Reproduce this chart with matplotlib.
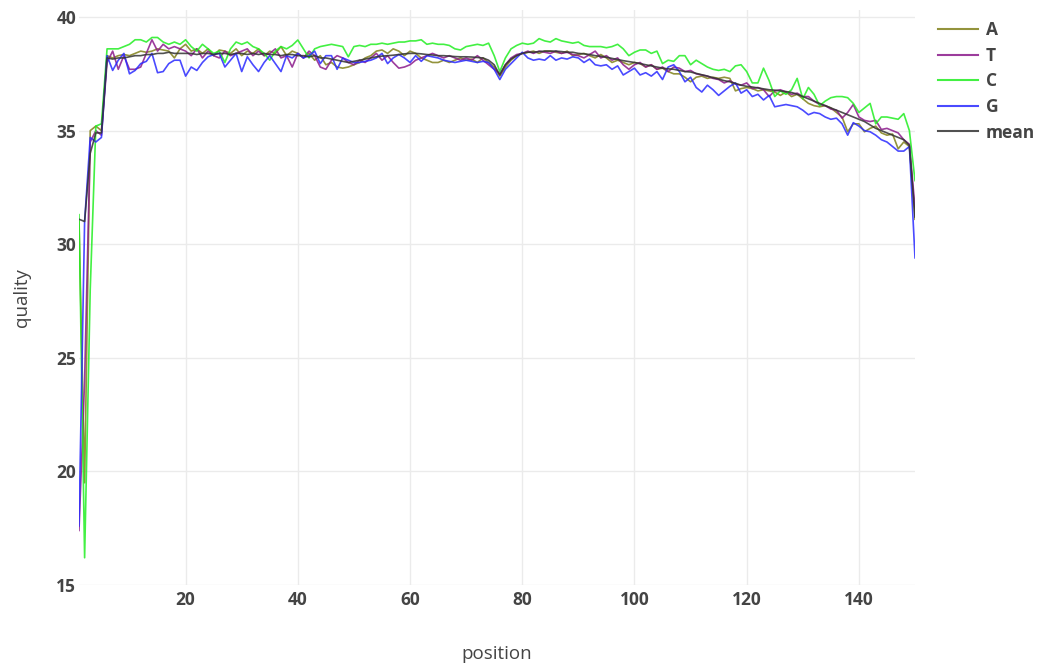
import matplotlib
matplotlib.use("Agg")
import matplotlib.pyplot as plt
import numpy as np

positions = list(range(1, 151))

A = [31.0, 19.5, 35.0, 35.2, 35.0, 38.3, 38.2, 38.3, 38.35, 38.3,
     38.4, 38.5, 38.45, 38.5, 38.6, 38.55, 38.5, 38.2, 38.6, 38.8,
     38.5, 38.6, 38.4, 38.6, 38.3, 38.55, 38.5, 38.4, 38.6, 38.3,
     38.5, 38.4, 38.6, 38.3, 38.5, 38.4, 38.7, 38.3, 38.5, 38.4,
     38.2, 38.4, 38.1, 38.3, 37.9, 38.0, 37.8, 37.75, 37.8, 37.9,
     38.0, 38.2, 38.3, 38.5, 38.55, 38.4, 38.6, 38.5, 38.3, 38.5,
     38.4, 38.2, 38.1, 38.0, 38.0, 38.1, 38.0, 38.1, 38.2, 38.1,
     38.15, 38.0, 38.2, 38.0, 37.8, 37.4, 37.8, 38.1, 38.3, 38.4,
     38.45, 38.5, 38.4, 38.5, 38.5, 38.45, 38.4, 38.5, 38.3, 38.35,
     38.4, 38.3, 38.2, 38.35, 38.2, 38.0, 38.1, 38.0, 37.9, 38.0,
     37.95, 37.8, 37.9, 37.7, 37.75, 37.6, 37.5, 37.5, 37.35, 37.15,
     37.35, 37.4, 37.3, 37.35, 37.3, 37.35, 37.3, 36.75, 36.85, 36.9,
     36.85, 36.75, 36.8, 36.75, 36.7, 36.55, 36.7, 36.5, 36.6, 36.4,
     36.2, 36.1, 36.05, 36.1, 36.0, 35.8, 35.6, 34.95, 35.3, 35.3,
     34.95, 35.1, 35.2, 34.9, 34.8, 34.85, 34.2, 34.5, 34.3, 31.1]

T = [17.4, 24.0, 34.5, 35.0, 34.8, 38.0, 38.5, 37.7, 38.3, 37.7,
     37.7, 37.8, 38.4, 39.0, 38.5, 38.8, 38.6, 38.7, 38.6, 38.5,
     38.3, 38.6, 38.2, 38.5, 38.3, 38.2, 38.5, 38.3, 38.4, 38.5,
     38.6, 38.3, 38.5, 38.3, 38.4, 38.6, 38.2, 38.3, 37.8, 38.4,
     38.2, 38.5, 38.3, 37.8, 37.7, 38.1, 38.3, 38.2, 38.0, 37.9,
     38.1, 38.0, 38.2, 38.4, 38.1, 38.3, 38.0, 37.75, 37.8, 37.9,
     38.1, 38.2, 38.3, 38.4, 38.3, 38.2, 38.3, 38.2, 38.1, 38.2,
     38.1, 38.3, 38.1, 37.9, 37.7, 37.5, 37.9, 38.2, 38.35, 38.4,
     38.5, 38.4, 38.5, 38.45, 38.4, 38.5, 38.4, 38.45, 38.35, 38.3,
     38.2, 38.35, 38.5, 38.2, 38.3, 38.1, 38.2, 37.9, 37.7, 37.9,
     38.0, 37.8, 37.9, 37.7, 37.8, 37.6, 37.8, 37.75, 37.6, 37.65,
     37.5, 37.45, 37.4, 37.3, 37.25, 37.1, 37.2, 37.05, 37.0, 37.1,
     36.85, 36.9, 36.8, 36.5, 36.75, 36.8, 36.7, 36.6, 36.65, 36.5,
     36.5, 36.3, 36.15, 36.1, 35.95, 35.9, 35.55, 35.8, 36.15, 35.6,
     35.45, 35.4, 35.45, 35.05, 35.1, 35.0, 34.9, 34.6, 34.4, 31.6]

C = [31.3, 16.2, 28.0, 35.2, 35.3, 38.6, 38.6, 38.6, 38.7, 38.8,
     39.0, 39.0, 38.9, 39.1, 39.1, 38.9, 38.8, 38.9, 38.8, 39.0,
     38.7, 38.5, 38.8, 38.6, 38.4, 38.5, 38.0, 38.6, 38.9, 38.8,
     38.9, 38.7, 38.6, 38.4, 38.1, 38.5, 38.7, 38.6, 38.75, 38.99,
     38.6, 38.2, 38.6, 38.7, 38.75, 38.8, 38.75, 38.7, 38.25, 38.7,
     38.75, 38.7, 38.8, 38.8, 38.85, 38.8, 38.85, 38.9, 38.9, 38.95,
     38.95, 39.0, 38.8, 38.85, 38.8, 38.8, 38.75, 38.6, 38.55, 38.7,
     38.75, 38.8, 38.75, 38.85, 38.3, 37.6, 38.2, 38.6, 38.75, 38.85,
     38.8, 38.85, 39.05, 38.95, 38.9, 39.05, 38.95, 38.9, 38.85, 38.9,
     38.75, 38.7, 38.7, 38.7, 38.65, 38.7, 38.8, 38.6, 38.3, 38.45,
     38.55, 38.55, 38.4, 38.5, 37.95, 38.1, 38.05, 38.3, 38.3, 37.9,
     38.1, 37.95, 37.8, 37.7, 37.65, 37.7, 37.6, 37.85, 37.9, 37.6,
     37.1, 37.1, 37.75, 37.2, 36.5, 36.75, 36.6, 36.8, 37.3, 36.4,
     36.9, 36.6, 36.1, 36.3, 36.45, 36.5, 36.5, 36.45, 36.2, 35.8,
     36.0, 36.2, 35.3, 35.6, 35.6, 35.55, 35.5, 35.75, 35.0, 32.8]

G = [17.6, 31.0, 34.7, 34.5, 34.7, 38.3, 37.65, 38.1, 38.4, 37.5,
     37.65, 37.95, 38.05, 38.4, 37.55, 37.6, 37.95, 38.1, 38.1, 37.4,
     37.8, 37.65, 38.0, 38.25, 38.35, 38.4, 37.8, 38.1, 38.4, 37.6,
     38.25, 37.9, 37.6, 38.0, 38.3, 37.95, 37.6, 38.3, 38.2, 38.4,
     38.2, 38.3, 38.5, 37.95, 38.3, 38.3, 37.7, 38.2, 38.1, 38.0,
     38.0, 38.05, 38.1, 38.2, 38.4, 37.95, 38.2, 38.35, 38.2, 38.0,
     38.3, 38.05, 38.3, 38.25, 38.2, 38.1, 38.05, 38.0, 38.05, 38.1,
     38.05, 38.0, 38.05, 38.0, 37.7, 37.25, 37.7, 37.95, 38.2, 38.45,
     38.2, 38.1, 38.15, 38.1, 38.3, 38.1, 38.2, 38.15, 38.25, 38.2,
     38.0, 38.15, 37.9, 37.85, 37.9, 37.7, 37.85, 37.45, 37.6, 37.75,
     37.45, 37.55, 37.4, 37.6, 37.25, 37.8, 37.9, 37.6, 37.15, 37.35,
     36.9, 36.7, 37.0, 36.8, 36.55, 36.75, 36.95, 37.1, 36.65, 36.8,
     36.5, 36.6, 36.35, 36.55, 36.05, 36.1, 36.15, 36.1, 36.05, 35.9,
     35.7, 35.8, 35.75, 35.6, 35.5, 35.55, 35.3, 34.8, 35.35, 35.2,
     35.0, 34.95, 34.8, 34.6, 34.5, 34.3, 34.1, 34.1, 34.3, 29.4]

MEAN = [31.1, 31.0, 34.0, 34.9, 34.9, 38.2, 38.15, 38.2, 38.2, 38.25,
        38.3, 38.3, 38.35, 38.35, 38.4, 38.4, 38.45, 38.4, 38.4, 38.4,
        38.4, 38.35, 38.4, 38.4, 38.35, 38.4, 38.4, 38.35, 38.4, 38.4,
        38.35, 38.4, 38.35, 38.4, 38.35, 38.35, 38.3, 38.35, 38.35, 38.3,
        38.3, 38.25, 38.3, 38.2, 38.2, 38.15, 38.1, 38.05, 38.0, 38.05,
        38.1, 38.15, 38.2, 38.25, 38.28, 38.3, 38.32, 38.35, 38.38, 38.4,
        38.4, 38.38, 38.35, 38.33, 38.3, 38.3, 38.28, 38.26, 38.25, 38.25,
        38.24, 38.22, 38.2, 38.1, 37.9, 37.45, 37.9, 38.15, 38.3, 38.4,
        38.45, 38.45, 38.48, 38.5, 38.5, 38.5, 38.48, 38.45, 38.45, 38.4,
        38.38, 38.35, 38.3, 38.27, 38.23, 38.18, 38.13, 38.08, 38.04, 38.0,
        37.95, 37.9, 37.85, 37.8, 37.75, 37.72, 37.7, 37.65, 37.6, 37.58,
        37.52, 37.46, 37.4, 37.33, 37.27, 37.2, 37.15, 37.08, 37.0, 36.95,
        36.92, 36.88, 36.84, 36.8, 36.78, 36.75, 36.72, 36.68, 36.6, 36.5,
        36.4, 36.3, 36.2, 36.1, 36.0, 35.9, 35.8, 35.7, 35.6, 35.5,
        35.4, 35.25, 35.1, 35.0, 34.9, 34.8, 34.7, 34.6, 34.35, 31.2]

series_names = ["A", "T", "C", "G", "mean"]
series_values = [A, T, C, G, MEAN]
series_colors = ["#80801a", "#8b1a8b", "#22ee22", "#2a2aff", "#333333"]

xticks = [20, 40, 60, 80, 100, 120, 140]
yticks = [15, 20, 25, 30, 35, 40]

fig = plt.figure(figsize=(10.49, 6.70), dpi=100)
W, H = 1049, 670
left, right, top, bottom = 79, 915, 10, 585
ax = fig.add_axes([left / W, 1 - bottom / H, (right - left) / W, (bottom - top) / H])

for name, vals, col in zip(series_names, series_values, series_colors):
    ax.plot(positions, vals, color=col, lw=1.2, alpha=0.85, label=name)

ax.set_xlim(1, 150)
ax.set_ylim(15, 40.31)
ax.set_xticks(xticks)
ax.set_yticks(yticks)
ax.grid(True, color="#ebebeb", lw=1)
ax.set_axisbelow(True)
for s in ax.spines.values():
    s.set_visible(False)
ax.tick_params(length=0, labelsize=12.5, labelcolor="#444444")
ax.tick_params(axis="y", pad=2)
ax.tick_params(axis="x", pad=4)
for lab in ax.get_xticklabels() + ax.get_yticklabels():
    lab.set_fontweight("bold")
    lab.set_family("Open Sans")

ax.set_xlabel("position", fontsize=13.5, color="#444444", family="Open Sans", labelpad=26)
ax.set_ylabel("quality", fontsize=13.5, color="#444444", family="Open Sans", labelpad=18)

leg = fig.legend(*ax.get_legend_handles_labels(), loc="upper left",
                 bbox_to_anchor=(938 / W, 1 - 21 / H), bbox_transform=fig.transFigure,
                 frameon=False, borderpad=0, borderaxespad=0,
                 prop={"family": "Open Sans", "weight": "bold", "size": 12.5},
                 handlelength=2.3, handletextpad=0.45, labelspacing=0.44)
for t in leg.get_texts():
    t.set_color("#444444")
for h in leg.get_lines():
    h.set_linewidth(1.5)

fig.savefig("out.png", dpi=100)
